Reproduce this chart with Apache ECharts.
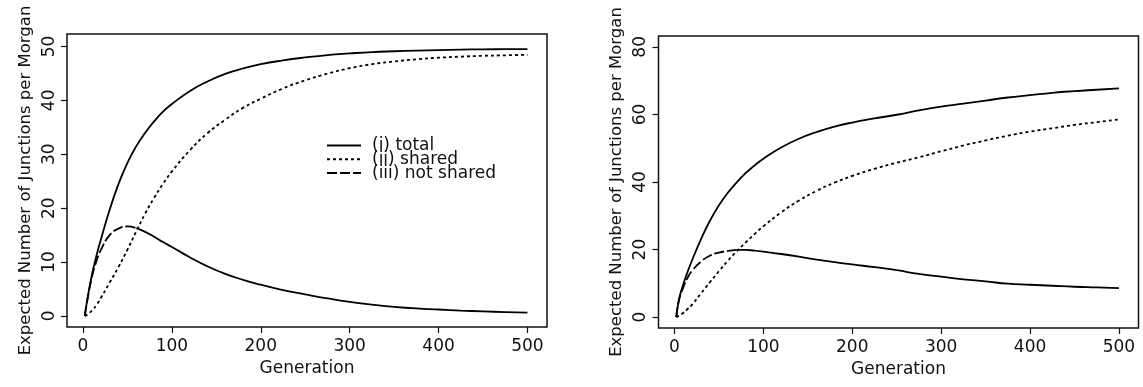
<!DOCTYPE html>
<html>
<head>
<meta charset="utf-8">
<script src="https://cdn.jsdelivr.net/npm/echarts@6/dist/echarts.min.js"></script>
<style>
  html, body { margin: 0; padding: 0; background: #fff; }
  #chart { width: 1143px; height: 387px; }
</style>
</head>
<body>
<div id="chart"></div>
<script>
// Generations at which the expected junction counts are tabulated
const generations = [2, 5, 10, 15, 20, 30, 40, 50, 60, 70, 80, 90, 100, 120, 140, 160, 180, 200,
                     225, 250, 275, 300, 325, 350, 375, 400, 425, 450, 475, 500];

// Left panel
const leftTotal = [0, 3.2, 7.6, 11.1, 14.1, 19.7, 24.5, 28.4, 31.5, 34.0, 36.1, 37.9, 39.3, 41.7, 43.5, 44.9, 45.9, 46.7,
                   47.4, 47.95, 48.4, 48.7, 48.95, 49.1, 49.22, 49.32, 49.4, 49.45, 49.48, 49.5];
const leftShared = [0, 0.3, 1.0, 2.0, 3.3, 6.2, 9.1, 12.3, 15.7, 19.0, 21.9, 24.5, 26.8, 30.7, 33.9, 36.4, 38.6, 40.3,
                    42.2, 43.7, 44.95, 45.95, 46.7, 47.2, 47.6, 47.9, 48.1, 48.25, 48.35, 48.45];
const leftNotShared = [0, 3.0, 7.2, 10.1, 12.2, 15.0, 16.2, 16.6, 16.3, 15.6, 14.7, 13.7, 12.8, 10.9, 9.2, 7.8, 6.7, 5.8,
                       4.8, 4.0, 3.25, 2.6, 2.1, 1.7, 1.4, 1.2, 1.0, 0.85, 0.72, 0.6];

// Right panel
const rightTotal = [0, 5.2, 9.8, 13.6, 17.0, 23.2, 28.6, 33.1, 36.8, 39.9, 42.6, 44.9, 46.9, 50.2, 52.8, 54.8, 56.4, 57.6,
                    58.8, 59.9, 61.2, 62.3, 63.2, 64.1, 65.0, 65.7, 66.4, 66.9, 67.3, 67.7];
const rightShared = [0, 0.4, 1.3, 2.5, 3.8, 7.1, 10.4, 13.6, 16.7, 19.5, 22.1, 24.6, 26.9, 31.0, 34.5, 37.4, 39.8, 41.8,
                     43.9, 45.7, 47.3, 49.1, 50.8, 52.3, 53.7, 54.9, 55.9, 56.9, 57.7, 58.5];
const rightNotShared = [0, 5.0, 8.9, 11.8, 13.8, 16.5, 18.2, 19.1, 19.6, 19.9, 19.9, 19.7, 19.4, 18.7, 17.9, 17.0, 16.3, 15.6,
                        14.8, 13.9, 12.8, 12.0, 11.2, 10.6, 9.9, 9.6, 9.3, 9.0, 8.8, 8.6];

const xTicks = [0, 100, 200, 300, 400, 500];
const leftYTicks = [0, 10, 20, 30, 40, 50];
const rightYTicks = [0, 20, 40, 60, 80];

const seriesNames = ['(i) total', '(ii) shared', '(iii) not shared'];

const FONT = '"DejaVu Sans", "Liberation Sans", Arial, sans-serif';
const INK = '#111';

function pairs(ys, from, to) {
  const out = [];
  generations.forEach(function (g, i) {
    if (g >= from && g <= to) out.push([g, ys[i]]);
  });
  return out;
}

function xAxisFor(gridIndex) {
  return {
    gridIndex: gridIndex, type: 'value', min: -18, max: 522,
    name: 'Generation', nameLocation: 'middle', nameGap: 32,
    nameTextStyle: { fontFamily: FONT, fontSize: 17, color: INK },
    axisLine: { show: false, onZero: false },
    axisTick: { show: true, inside: false, length: 6, customValues: xTicks, lineStyle: { color: INK, width: 1.2 } },
    axisLabel: { customValues: xTicks, margin: 11, fontFamily: FONT, fontSize: 17, color: INK },
    splitLine: { show: false }
  };
}

function yAxisFor(gridIndex, min, max, ticks) {
  return {
    gridIndex: gridIndex, type: 'value', min: min, max: max,
    name: 'Expected Number of Junctions per Morgan', nameLocation: 'middle', nameGap: 33, nameRotate: 90,
    nameTextStyle: { fontFamily: FONT, fontSize: 16.5, color: INK },
    axisLine: { show: false, onZero: false },
    axisTick: { show: true, inside: false, length: 6, customValues: ticks, lineStyle: { color: INK, width: 1.2 } },
    axisLabel: { customValues: ticks, rotate: 90, margin: 9, fontFamily: FONT, fontSize: 17, color: INK },
    splitLine: { show: false }
  };
}

function line(name, idx, data, dash) {
  return {
    name: name, type: 'line', xAxisIndex: idx, yAxisIndex: idx, data: data,
    symbol: 'none', smooth: 0.5, silent: true,
    lineStyle: { color: '#000', width: 1.8, type: dash },
    itemStyle: { color: '#000' }
  };
}

function panelSeries(idx, total, shared, notShared, cut) {
  return [
    line(seriesNames[0], idx, pairs(total, 0, 1000), 'solid'),
    line(seriesNames[1], idx, pairs(shared, 0, 1000), [3, 3]),
    line(seriesNames[2], idx, pairs(notShared, 0, cut), [10, 3]),
    line(seriesNames[2], idx, pairs(notShared, cut, 1000), 'solid')
  ];
}

const chart = echarts.init(document.getElementById('chart'), null, { renderer: 'canvas' });
chart.setOption({
  animation: false,
  backgroundColor: '#fff',
  grid: [
    { left: 67, top: 34, width: 480, height: 293, show: true, borderColor: INK, borderWidth: 1.5, backgroundColor: 'transparent' },
    { left: 658.5, top: 36, width: 480, height: 292, show: true, borderColor: INK, borderWidth: 1.5, backgroundColor: 'transparent' }
  ],
  xAxis: [xAxisFor(0), xAxisFor(1)],
  yAxis: [yAxisFor(0, -2.05, 52.3, leftYTicks), yAxisFor(1, -3.2, 83.2, rightYTicks)],
  legend: {
    data: seriesNames,
    orient: 'vertical', left: 321, top: 132,
    itemWidth: 34, itemHeight: 14, itemGap: -3.2,
    selectedMode: false,
    itemStyle: { opacity: 0 },
    textStyle: { fontFamily: FONT, fontSize: 17, color: INK, padding: [0, 0, 0, 6], lineHeight: 14 }
  },
  series: [].concat(
    panelSeries(0, leftTotal, leftShared, leftNotShared, 60),
    panelSeries(1, rightTotal, rightShared, rightNotShared, 70)
  )
});
</script>
</body>
</html>
